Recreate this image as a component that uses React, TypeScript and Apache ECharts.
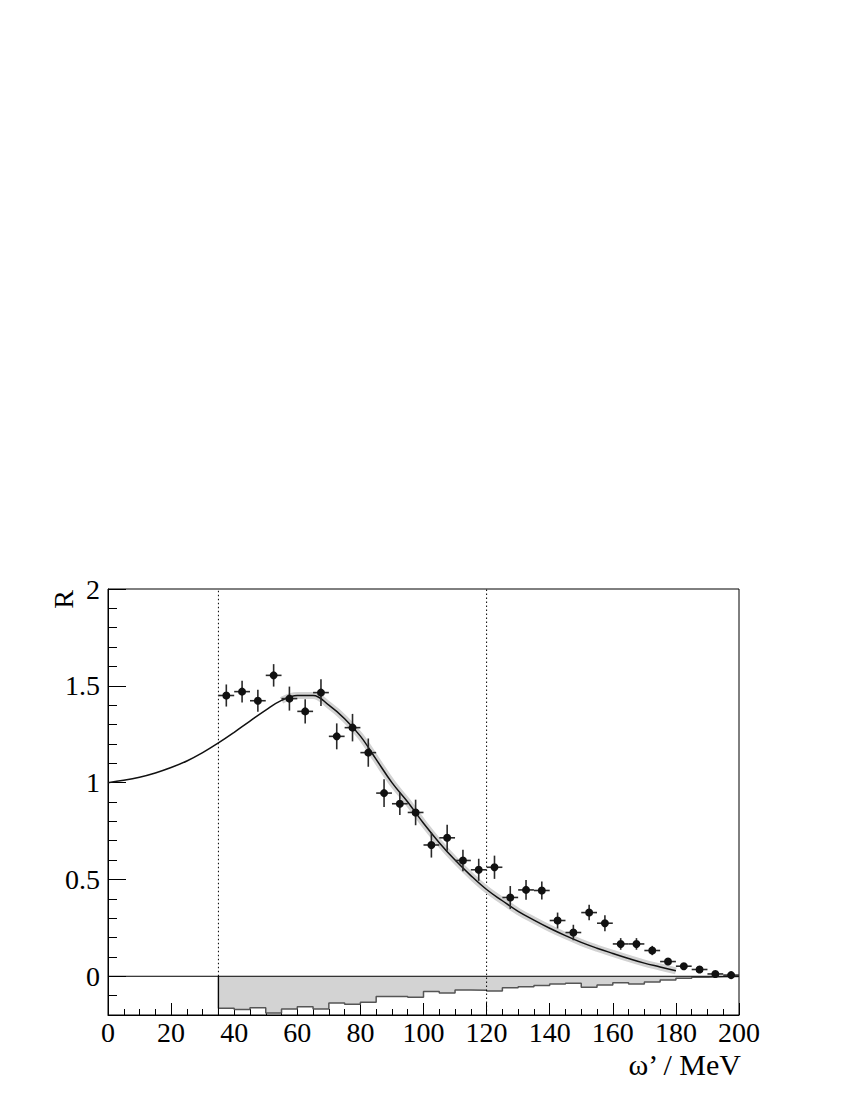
import React, { useEffect, useRef } from "react";
import * as echarts from "echarts";

// Measured ratio R in 5 MeV bins
const binCenters = [37.5, 42.5, 47.5, 52.5, 57.5, 62.5, 67.5, 72.5, 77.5, 82.5, 87.5, 92.5, 97.5, 102.5, 107.5, 112.5, 117.5, 122.5, 127.5, 132.5, 137.5, 142.5, 147.5, 152.5, 157.5, 162.5, 167.5, 172.5, 177.5, 182.5, 187.5, 192.5, 197.5];
const ratioValues = [1.45, 1.47, 1.423, 1.554, 1.434, 1.368, 1.465, 1.239, 1.284, 1.155, 0.946, 0.891, 0.846, 0.678, 0.715, 0.598, 0.55, 0.563, 0.407, 0.446, 0.443, 0.288, 0.226, 0.329, 0.274, 0.167, 0.167, 0.133, 0.076, 0.052, 0.035, 0.012, 0.006];
const ratioErrors = [0.057, 0.056, 0.057, 0.058, 0.062, 0.063, 0.069, 0.067, 0.071, 0.073, 0.072, 0.058, 0.066, 0.065, 0.067, 0.056, 0.057, 0.06, 0.059, 0.051, 0.047, 0.041, 0.04, 0.04, 0.041, 0.03, 0.03, 0.024, 0.015, 0.012, 0.01, 0.008, 0.006];
const binHalfWidth = 2.5;

// Fit curve
const curveX = [0, 5, 10, 15, 20, 25, 30, 35, 40, 45, 50, 55, 60, 65, 70, 75, 80, 85, 90, 95, 100, 105, 110, 115, 120, 125, 130, 135, 140, 145, 150, 155, 160, 165, 170, 175, 180];
const curveY = [1.0, 1.012, 1.028, 1.05, 1.078, 1.112, 1.155, 1.205, 1.26, 1.318, 1.375, 1.425, 1.45, 1.45, 1.4, 1.33, 1.24, 1.12, 1.0, 0.9, 0.79, 0.69, 0.6, 0.52, 0.448, 0.39, 0.335, 0.29, 0.248, 0.21, 0.175, 0.145, 0.118, 0.092, 0.068, 0.048, 0.028];
const bandStartX = 55;

// Residual histogram (lower edge of each bin, value)
const histEdges = [35, 40, 45, 50, 55, 60, 65, 70, 75, 80, 85, 90, 95, 100, 105, 110, 115, 120, 125, 130, 135, 140, 145, 150, 155, 160, 165, 170, 175, 180, 185, 190, 195, 200];
const histValues = [-0.165, -0.172, -0.163, -0.19, -0.169, -0.157, -0.169, -0.138, -0.145, -0.134, -0.104, -0.104, -0.108, -0.078, -0.087, -0.071, -0.072, -0.076, -0.059, -0.054, -0.048, -0.04, -0.036, -0.057, -0.045, -0.033, -0.04, -0.03, -0.019, -0.01, -0.005, -0.003, -0.001];

const yMajorTicks = [0, 0.5, 1, 1.5, 2];
const cutLines = [35, 120];

const FONT = "Liberation Serif";

export default function App() {
  const ref = useRef<HTMLDivElement>(null);
  useEffect(() => {
    if (!ref.current) return;
    const chart = echarts.init(ref.current, null, { renderer: "svg" });

    const points = binCenters.map((x, i) => [x, ratioValues[i], ratioErrors[i]]);
    const curve = curveX.map((x, i) => [x, curveY[i]]);
    const band = curve.filter((p) => p[0] >= bandStartX);
    const hist: number[][] = [[histEdges[0], 0]];
    histValues.forEach((v, i) => hist.push([histEdges[i], v]));
    hist.push([histEdges[histEdges.length - 1], histValues[histValues.length - 1]]);

    const option: any = {
      animation: false,
      backgroundColor: "#fff",
      grid: {
        left: 108,
        top: 589,
        width: 631,
        height: 426,
        show: true,
        borderColor: "#000",
        borderWidth: 1,
        backgroundColor: "transparent",
      },
      xAxis: {
        type: "value",
        min: 0,
        max: 200,
        interval: 20,
        axisLine: { show: true, onZero: false, lineStyle: { color: "#000", width: 1 } },
        axisTick: { show: true, inside: true, length: 12, lineStyle: { color: "#000", width: 1 } },
        minorTick: { show: true, splitNumber: 4, length: 6, lineStyle: { color: "#000", width: 1 } },
        axisLabel: { fontFamily: FONT, fontSize: 28, color: "#000", margin: 3 },
        splitLine: { show: false },
      },
      yAxis: [
        {
          type: "value",
          min: -0.2,
          max: 2,
          axisLine: { show: true, onZero: false, lineStyle: { color: "#000", width: 1 } },
          axisTick: { show: true, inside: true, length: 18, customValues: yMajorTicks, lineStyle: { color: "#000", width: 1 } },
          axisLabel: {
            show: true,
            customValues: yMajorTicks,
            fontFamily: FONT,
            fontSize: 28,
            color: "#000",
            margin: 8,
            formatter: (v: number) => String(v),
          },
          splitLine: { show: false },
        },
        {
          type: "value",
          min: -0.2,
          max: 2,
          interval: 0.1,
          position: "left",
          axisLine: { show: false },
          axisTick: { show: true, inside: true, length: 9, lineStyle: { color: "#000", width: 1 } },
          axisLabel: { show: false },
          splitLine: { show: false },
        },
      ],
      graphic: [
        {
          type: "text",
          x: 63,
          y: 590,
          rotation: Math.PI / 2,
          style: { text: "R", font: `28px '${FONT}'`, fill: "#000", align: "right", verticalAlign: "middle" },
        },
        {
          type: "text",
          x: 741,
          y: 1064,
          style: { text: "ω’ / MeV", font: `30px '${FONT}'`, fill: "#000", align: "right", verticalAlign: "middle" },
        },
      ],
      series: [
        {
          type: "line",
          data: hist,
          step: "end",
          symbol: "none",
          lineStyle: { color: "#555", width: 1.5 },
          areaStyle: { color: "#d3d3d3", opacity: 1, origin: 0 },
          z: 1,
        },
        {
          type: "line",
          data: [[0, 0], [200, 0]],
          symbol: "none",
          lineStyle: { color: "#000", width: 1 },
          z: 2,
        },
        {
          type: "line",
          data: [[cutLines[0], -0.2], [cutLines[0], 0]],
          symbol: "none",
          lineStyle: { color: "#000", width: 1 },
          z: 2,
        },
        {
          type: "line",
          data: [[cutLines[0], 0], [cutLines[0], 2]],
          symbol: "none",
          lineStyle: { color: "#000", width: 1, type: [1.5, 2.5] },
          z: 2,
        },
        {
          type: "line",
          data: [[cutLines[1], -0.2], [cutLines[1], 2]],
          symbol: "none",
          lineStyle: { color: "#000", width: 1, type: [1.5, 2.5] },
          z: 2,
        },
        {
          type: "line",
          data: band,
          smooth: 0.4,
          symbol: "none",
          lineStyle: { color: "#d2d2d2", width: 7 },
          z: 3,
        },
        {
          type: "line",
          data: curve,
          smooth: 0.4,
          symbol: "none",
          lineStyle: { color: "#111", width: 1.5 },
          z: 4,
        },
        {
          type: "custom",
          data: points,
          dimensions: ["x", "y", "err"],
          encode: { x: 0, y: 1 },
          z: 5,
          renderItem: (params: any, api: any) => {
            const x = api.value(0);
            const y = api.value(1);
            const e = api.value(2);
            const c = api.coord([x, y]);
            const l = api.coord([x - binHalfWidth, y]);
            const r = api.coord([x + binHalfWidth, y]);
            const t = api.coord([x, y + e]);
            const b = api.coord([x, y - e]);
            const st = { stroke: "#2a2a2a", lineWidth: 1.6 };
            return {
              type: "group",
              children: [
                { type: "line", shape: { x1: l[0], y1: l[1], x2: r[0], y2: r[1] }, style: st },
                { type: "line", shape: { x1: t[0], y1: t[1], x2: b[0], y2: b[1] }, style: st },
                { type: "circle", shape: { cx: c[0], cy: c[1], r: 4 }, style: { fill: "#111" } },
              ],
            };
          },
        },
      ],
    };
    chart.setOption(option);
    return () => chart.dispose();
  }, []);
  return <div ref={ref} style={{ position: "absolute", left: 0, top: 0, width: 850, height: 1100 }} />;
}
